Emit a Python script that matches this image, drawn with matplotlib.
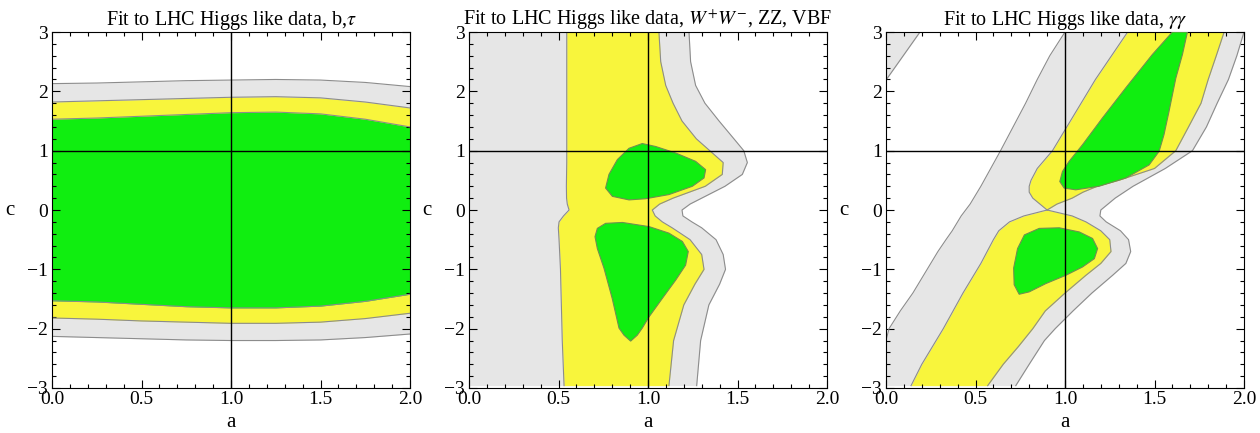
import numpy as np
import matplotlib
matplotlib.use('Agg')
import matplotlib.pyplot as plt
from matplotlib.ticker import MultipleLocator

plt.rcParams['font.family'] = ['Liberation Serif', 'DejaVu Serif']
plt.rcParams['mathtext.fontset'] = 'stix'

GREY = '#e6e6e6'
YELLOW = '#f8f53c'
GREEN = '#10ee10'
EDGE = '#8c8c8c'

titles = ['Fit to LHC Higgs like data, b,$\\tau$',
          'Fit to LHC Higgs like data, $W^{+}W^{-}$, ZZ, VBF',
          'Fit to LHC Higgs like data, $\\gamma\\gamma$']

### panel 1 : b, tau  (bands as function of a) ###
a1 = [0.0, 0.25, 0.5, 0.75, 1.0, 1.25, 1.5, 1.75, 2.0]
grey_top1 = [2.13, 2.14, 2.16, 2.18, 2.19, 2.20, 2.19, 2.15, 2.08]
yel_top1 = [1.82, 1.84, 1.86, 1.88, 1.90, 1.91, 1.89, 1.82, 1.72]
grn_top1 = [1.53, 1.55, 1.58, 1.61, 1.64, 1.65, 1.62, 1.53, 1.40]
grn_bot1 = [-1.53, -1.55, -1.59, -1.63, -1.65, -1.65, -1.62, -1.54, -1.42]
yel_bot1 = [-1.82, -1.84, -1.87, -1.89, -1.91, -1.91, -1.89, -1.83, -1.74]
grey_bot1 = [-2.13, -2.15, -2.17, -2.19, -2.20, -2.20, -2.19, -2.15, -2.09]

### panel 2 : WW, ZZ, VBF  (bands as function of c) ###
c2 = [3.0, 2.5, 2.1, 1.8, 1.5, 1.2, 1.0, 0.8, 0.6, 0.4, 0.2, 0.1, 0.0,
      -0.1, -0.2, -0.3, -0.5, -0.75, -1.0, -1.25, -1.6, -2.2, -2.96]
grey_right2 = [1.229, 1.238, 1.266, 1.318, 1.397, 1.48, 1.535, 1.555, 1.527, 1.43, 1.30, 1.235, 1.19,
               1.195, 1.245, 1.30, 1.38, 1.42, 1.433, 1.40, 1.34, 1.294, 1.272]
yel_left2 = [0.546, 0.546, 0.546, 0.546, 0.546, 0.546, 0.546, 0.546, 0.545, 0.544, 0.545, 0.549, 0.559,
             0.528, 0.503, 0.499, 0.503, 0.507, 0.511, 0.513, 0.516, 0.521, 0.531]
yel_right2 = [1.061, 1.071, 1.099, 1.14, 1.19, 1.27, 1.345, 1.42, 1.415, 1.32, 1.14, 1.065, 1.024,
              1.04, 1.08, 1.135, 1.235, 1.30, 1.313, 1.262, 1.20, 1.143, 1.117]
grn_up2_a = [0.763, 0.782, 0.829, 0.894, 0.968, 1.043, 1.155, 1.266, 1.322, 1.313, 1.248, 1.117, 0.987, 0.894, 0.801]
grn_up2_c = [0.37, 0.60, 0.85, 1.04, 1.12, 1.07, 0.96, 0.82, 0.68, 0.54, 0.40, 0.26, 0.19, 0.17, 0.23]
grn_lo2_a = [0.704, 0.717, 0.763, 0.857, 1.006, 1.117, 1.192, 1.225, 1.21, 1.155, 1.08, 1.006, 0.968, 0.94,
             0.903, 0.866, 0.838, 0.80, 0.754, 0.717]
grn_lo2_c = [-0.45, -0.31, -0.225, -0.21, -0.28, -0.39, -0.53, -0.70, -0.93, -1.18, -1.49, -1.80, -1.99, -2.11,
             -2.21, -2.11, -1.99, -1.49, -0.98, -0.65]

### panel 3 : gamma gamma ###
c3 = [3.0, 2.6, 2.2, 1.8, 1.4, 1.0, 0.7, 0.4, 0.2, 0.1, 0.0, -0.1, -0.2, -0.35, -0.5, -0.7,
      -0.9, -1.1, -1.4, -1.7, -2.0, -2.2, -2.6, -2.96]
grey_left3 = [1.0, 0.915, 0.845, 0.78, 0.71, 0.64, 0.585, 0.53, 0.49, 0.47, 0.445, 0.42, 0.40, 0.37, 0.335, 0.29,
              0.25, 0.21, 0.15, 0.08, 0.017, 0.0, 0.0, 0.0]
grey_right3 = [2.0, 1.96, 1.913, 1.85, 1.79, 1.712, 1.56, 1.38, 1.28, 1.24, 1.20, 1.195, 1.23, 1.31, 1.355, 1.367,
               1.34, 1.266, 1.15, 1.045, 0.945, 0.885, 0.80, 0.725]
corner_c3 = [2.19, 3.0]
corner_a3 = [0.0, 0.19]
c3_yup = [3.0, 2.6, 2.2, 1.8, 1.4, 1.0, 0.7, 0.5, 0.4, 0.3, 0.2, 0.1, 0.0]
yel_up_left3 = [1.35, 1.26, 1.17, 1.09, 1.01, 0.93, 0.845, 0.81, 0.80, 0.80, 0.82, 0.86, 0.90]
yel_up_right3 = [1.889, 1.845, 1.80, 1.76, 1.69, 1.619, 1.50, 1.30, 1.18, 1.10, 1.04, 0.955, 0.90]
c3_ylo = [0.0, -0.1, -0.2, -0.35, -0.5, -0.7, -0.9, -1.1, -1.4, -1.7, -2.0, -2.3, -2.6, -2.96]
yel_lo_left3 = [0.90, 0.77, 0.69, 0.63, 0.60, 0.565, 0.53, 0.49, 0.43, 0.375, 0.32, 0.26, 0.20, 0.14]
yel_lo_right3 = [0.90, 1.04, 1.117, 1.20, 1.25, 1.257, 1.20, 1.117, 1.0, 0.89, 0.82, 0.74, 0.655, 0.568]
grn_up3_a = [1.60, 1.488, 1.34, 1.209, 1.098, 1.023, 0.986, 0.971, 0.995, 1.06, 1.19, 1.34, 1.47, 1.526,
             1.553, 1.581, 1.619, 1.656, 1.684]
grn_up3_c = [3.0, 2.62, 2.06, 1.55, 1.10, 0.82, 0.65, 0.48, 0.37, 0.34, 0.40, 0.54, 0.76, 0.99,
             1.27, 1.66, 2.22, 2.62, 3.0]
grn_lo3_a = [0.744, 0.716, 0.713, 0.735, 0.773, 0.856, 0.968, 1.08, 1.154, 1.182, 1.164, 1.098, 1.005, 0.893, 0.80]
grn_lo3_c = [-1.42, -1.26, -0.98, -0.65, -0.42, -0.31, -0.30, -0.37, -0.48, -0.65, -0.82, -0.96, -1.10, -1.24, -1.38]


def band_x(ax, x, lo, hi, color):
    ax.fill_between(x, lo, hi, color=color, lw=0, zorder=1)
    ax.plot(x, lo, color=EDGE, lw=0.8, zorder=2)
    ax.plot(x, hi, color=EDGE, lw=0.8, zorder=2)


def band_y(ax, y, lo, hi, color, edges=(True, True)):
    ax.fill_betweenx(y, lo, hi, color=color, lw=0, zorder=1)
    if edges[0]:
        ax.plot(lo, y, color=EDGE, lw=0.8, zorder=2)
    if edges[1]:
        ax.plot(hi, y, color=EDGE, lw=0.8, zorder=2)


def blob(ax, xs, ys):
    ax.fill(xs, ys, facecolor=GREEN, edgecolor='#6f8f50', lw=0.8, zorder=3)


fig = plt.figure(figsize=(12.6, 4.33), dpi=100)
lefts = [52, 469, 886]
axs = [fig.add_axes([l / 1260., 1 - 388 / 433., 358 / 1260., 356 / 433.]) for l in lefts]

# panel 1
ax = axs[0]
band_x(ax, a1, grey_bot1, grey_top1, GREY)
band_x(ax, a1, yel_bot1, yel_top1, YELLOW)
band_x(ax, a1, grn_bot1, grn_top1, GREEN)

# panel 2
ax = axs[1]
band_y(ax, c2, np.zeros(len(c2)), grey_right2, GREY, edges=(False, True))
band_y(ax, c2, yel_left2, yel_right2, YELLOW)
blob(ax, grn_up2_a, grn_up2_c)
blob(ax, grn_lo2_a, grn_lo2_c)

# panel 3
ax = axs[2]
band_y(ax, c3, grey_left3, grey_right3, GREY)
band_y(ax, corner_c3, [0, 0], corner_a3, GREY, edges=(False, True))
band_y(ax, c3_yup, yel_up_left3, yel_up_right3, YELLOW)
band_y(ax, c3_ylo, yel_lo_left3, yel_lo_right3, YELLOW)
blob(ax, grn_up3_a, grn_up3_c)
blob(ax, grn_lo3_a, grn_lo3_c)

for ax, t in zip(axs, titles):
    ax.axvline(1.0, color='black', lw=1.0, zorder=5)
    ax.axhline(1.0, color='black', lw=1.0, zorder=5)
    ax.set_xlim(0, 2)
    ax.set_ylim(-3, 3)
    ax.xaxis.set_major_locator(MultipleLocator(0.5))
    ax.xaxis.set_minor_locator(MultipleLocator(0.1))
    ax.yaxis.set_major_locator(MultipleLocator(1))
    ax.yaxis.set_minor_locator(MultipleLocator(0.2))
    ax.set_xticks([0, 0.5, 1.0, 1.5, 2.0])
    ax.set_xticklabels(['0.0', '0.5', '1.0', '1.5', '2.0'])
    ax.tick_params(which='both', direction='in', top=True, right=True, labelsize=14, width=0.8)
    ax.tick_params(which='major', length=6)
    ax.tick_params(axis='x', which='major', pad=2)
    ax.tick_params(axis='y', which='major', pad=3)
    ax.tick_params(which='minor', length=3)
    for s in ax.spines.values():
        s.set_linewidth(0.8)
    ax.set_title(t, fontsize=14.5, pad=5)
    ax.set_xlabel('a', fontsize=15, labelpad=4)
    ax.set_ylabel('c', fontsize=15, rotation=0, labelpad=12, va='center')

plt.savefig('out.png', dpi=100)
